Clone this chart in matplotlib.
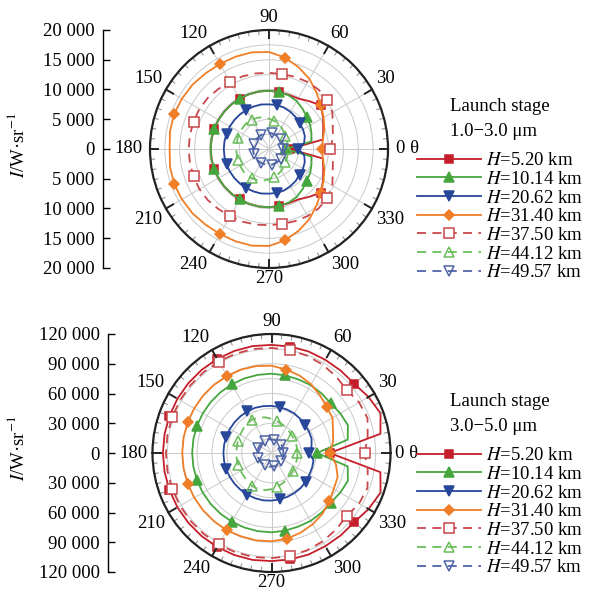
import numpy as np
import matplotlib
matplotlib.use('Agg')
import matplotlib.pyplot as plt

plt.rcParams['font.family'] = ['Liberation Serif', 'DejaVu Serif']
plt.rcParams['mathtext.fontset'] = 'stix'

# ---------------- data (angle in degrees, intensity in W/sr) ----------------
angles_deg = list(range(0, 360, 10))

heights = ['5.20', '10.14', '20.62', '31.40', '37.50', '44.12', '49.57']

# Launch stage, 1.0-3.0 um
top_h520 = [3500, 9200, 9700, 10500, 11400, 10500, 9800, 9700, 9700, 9800,
            9800, 9800, 9800, 9800, 9800, 9800, 9800, 9800, 9800,
            9800, 9800, 9800, 9800, 9800, 9800, 9800, 9800, 9800,
            9700, 9700, 9800, 10500, 11400, 10500, 9700, 9200]
top_h1014 = [2700, 7200, 7600, 8000, 8300, 8800, 9300, 9600, 9700, 9800,
             9800, 9800, 9800, 9800, 9800, 9800, 9800, 9800, 9800,
             9800, 9800, 9800, 9800, 9800, 9800, 9800, 9800, 9800,
             9700, 9600, 9300, 8800, 8300, 8000, 7600, 7200]
top_h2062 = [4900, 6000, 6400, 6600, 6700, 7000, 7200, 7400, 7500, 7500,
             7600, 7600, 7600, 7600, 7600, 7600, 7600, 7600, 7600,
             7600, 7600, 7600, 7600, 7600, 7600, 7600, 7600, 7500,
             7500, 7400, 7200, 7000, 6700, 6600, 6400, 6000]
top_h3140 = [8900, 9200, 9900, 10600, 11400, 12400, 13600, 14600, 15600, 16300,
             16500, 16500, 16500, 16600, 16800, 16900, 17000, 16900, 16700,
             16900, 17000, 16900, 16800, 16600, 16500, 16500, 16500, 16300,
             15600, 14600, 13600, 12400, 11400, 10600, 9900, 9200]
top_h3750 = [10300, 10900, 11400, 12300, 12800, 13000, 13000, 12900, 12800, 12800,
             12900, 13000, 13000, 13200, 13400, 13500, 13500, 13500, 13500,
             13500, 13500, 13500, 13400, 13200, 13000, 13000, 12900, 12800,
             12800, 12900, 13000, 13000, 12800, 12300, 11400, 10900]
top_h4412 = [3100, 3200, 3300, 3400, 3500, 3800, 4200, 4500, 4800, 5100,
             5400, 5600, 5700, 5800, 5700, 5600, 5600, 5500, 5500,
             5500, 5600, 5600, 5700, 5800, 5700, 5600, 5400, 5100,
             4800, 4500, 4200, 3800, 3500, 3400, 3300, 3200]
top_h4957 = [2300, 2400, 2500, 2500, 2600, 2600, 2600, 2600, 2700, 2700,
             2700, 2700, 2700, 2700, 2700, 2700, 2700, 2700, 2700,
             2700, 2700, 2700, 2700, 2700, 2700, 2700, 2700, 2700,
             2700, 2600, 2600, 2600, 2600, 2500, 2500, 2400]

# Launch stage, 3.0-5.0 um
bot_h520 = [58700, 111500, 117000, 113000, 108800, 108500, 108500, 109000, 109000, 109000,
            109500, 109500, 109500, 109500, 109500, 109500, 109500, 109500, 109500,
            109500, 109500, 109500, 109500, 109500, 109500, 109500, 109500, 109000,
            109000, 109000, 108500, 108500, 108800, 113000, 117000, 111500]
bot_h1014 = [46000, 78000, 82000, 80000, 78000, 78500, 79000, 79000, 79500, 80000,
             80000, 80000, 80000, 80000, 80000, 80000, 80000, 80000, 80000,
             80000, 80000, 80000, 80000, 80000, 80000, 80000, 80000, 80000,
             79500, 79000, 79000, 78500, 78000, 80000, 82000, 78000]
bot_h2062 = [38000, 41000, 43000, 43500, 44000, 45000, 46000, 46500, 47000, 47500,
             48000, 48500, 48500, 48500, 48500, 48500, 48500, 48500, 48500,
             48500, 48500, 48500, 48500, 48500, 48500, 48500, 48500, 48000,
             47500, 47000, 46500, 46000, 45000, 44000, 43500, 43000]
bot_h3140 = [59000, 63000, 66000, 71000, 72500, 76000, 80000, 83000, 85500, 88000,
             89000, 89500, 89500, 90000, 90000, 90000, 90000, 90000, 90000,
             90000, 90000, 90000, 90000, 90000, 90000, 89500, 89500, 89000,
             88000, 85500, 83000, 80000, 76000, 72500, 71000, 66000]
bot_h3750 = [94000, 98500, 103000, 102000, 99000, 101000, 103000, 104500, 105500, 106000,
             106500, 106500, 106500, 106500, 106500, 106500, 106500, 106500, 106500,
             106500, 106500, 106500, 106500, 106500, 106500, 106500, 106500, 106000,
             105500, 104500, 103000, 101000, 99000, 102000, 103000, 98500]
bot_h4412 = [26000, 26000, 26500, 26500, 27000, 28000, 29500, 31000, 32500, 34500,
             36500, 38000, 39000, 38500, 37500, 36500, 36000, 35500, 35500,
             35500, 35500, 36000, 36500, 37500, 38500, 39000, 38000, 36500,
             34500, 32500, 31000, 29500, 28000, 27000, 26500, 26500]
bot_h4957 = [12000, 12000, 12500, 12500, 13000, 13000, 13000, 13500, 13500, 13500,
             14000, 14000, 14000, 14000, 14000, 14000, 14000, 14000, 14000,
             14000, 14000, 14000, 14000, 14000, 14000, 14000, 14000, 13500,
             13500, 13500, 13000, 13000, 13000, 12500, 12500, 12000]

top_series = [top_h520, top_h1014, top_h2062, top_h3140, top_h3750, top_h4412, top_h4957]
bot_series = [bot_h520, bot_h1014, bot_h2062, bot_h3140, bot_h3750, bot_h4412, bot_h4957]

# ---------------- styles ----------------
styles = [
    dict(color='#C41E2A', ls='-', marker='s', mfc='#C41E2A', ms=6),
    dict(color='#45A63E', ls='-', marker='^', mfc='#45A63E', ms=6.5),
    dict(color='#27479B', ls='-', marker='v', mfc='#27479B', ms=6.5),
    dict(color='#F07E26', ls='-', marker='D', mfc='#F07E26', ms=5.5),
    dict(color='#C9474B', ls=(0, (5, 3.5)), marker='s', mfc='white', ms=6.5),
    dict(color='#6BBD5C', ls=(0, (5, 3.5)), marker='^', mfc='none', ms=7.5),
    dict(color='#4F64A6', ls=(0, (5, 3.5)), marker='v', mfc='none', ms=7.5),
]

FS = 13.5
W, H = 598, 590
fig = plt.figure(figsize=(W / 100, H / 100), dpi=100)


def frac_rect(x0, y0, x1, y1):
    return [x0 / W, 1 - y1 / H, (x1 - x0) / W, (y1 - y0) / H]


def fmt(v):
    return f"{abs(int(round(v))):,}".replace(',', ' ')


def panel(polar_px, axis_x, rmax, rstep, ystep, series, title, leg_xy, pad0, pad180):
    ax = fig.add_axes(frac_rect(*polar_px), projection='polar')
    ax.set_theta_zero_location('E')
    ax.set_ylim(0, rmax)
    ax.set_rgrids(np.arange(rstep, rmax, rstep), labels=[])
    ax.set_thetagrids(np.arange(0, 360, 30), labels=[])
    ax.grid(True, color='#c9c9c9', lw=0.7)
    ax.spines['polar'].set_linewidth(1.6)
    ax.spines['polar'].set_color('#222222')
    ax.tick_params(axis='both', length=0)

    th = np.deg2rad(np.array(angles_deg + [angles_deg[0]]))
    handles = []
    for vals, st, hh in zip(series, styles, heights):
        r = np.array(vals + [vals[0]])
        ln, = ax.plot(th, r, color=st['color'], ls=st['ls'], lw=1.3,
                      marker=st['marker'], ms=st['ms'], mfc=st['mfc'],
                      mec=st['color'], mew=1.1,
                      markevery=list(range(0, len(angles_deg), 4)),
                      label=f"$H$={hh} km", clip_on=False)
        handles.append(ln)

    # outer ring ticks
    for d in range(0, 360, 5):
        t = np.deg2rad(d)
        if d % 30 == 0:
            ax.plot([t, t], [rmax, rmax * 0.93], color='#222222', lw=1.4, clip_on=False)
        else:
            ax.plot([t, t], [rmax, rmax * 0.965], color='#888888', lw=0.7, clip_on=False)

    # angular labels
    for d in range(0, 360, 30):
        t = np.deg2rad(d)
        c, s = np.cos(t), np.sin(t)
        ha = 'left' if c > 0.1 else ('right' if c < -0.1 else 'center')
        va = 'bottom' if s > 0.1 else ('top' if s < -0.1 else 'center')
        rr = rmax * 1.035
        txt = str(d)
        if d == 0:
            txt = '0 θ'
            rr = rmax * pad0
        if d == 180:
            rr = rmax * pad180
        if d == 270:
            rr = rmax * 1.02
        ax.text(t, rr, txt, ha=ha, va=va, fontsize=FS, clip_on=False)

    # vertical intensity scale
    y0, y1 = polar_px[1], polar_px[3]
    axl = fig.add_axes(frac_rect(axis_x, y0, axis_x + 40, y1))
    axl.set_ylim(-rmax, rmax)
    ticks = np.arange(-rmax, rmax + 1, ystep)
    axl.set_yticks(ticks)
    axl.set_yticklabels([fmt(v) for v in ticks], fontsize=FS)
    axl.tick_params(axis='y', direction='in', length=5, width=1.0, pad=6)
    axl.set_xticks([])
    for sp in ['top', 'right', 'bottom']:
        axl.spines[sp].set_visible(False)
    axl.spines['left'].set_linewidth(1.0)
    axl.patch.set_visible(False)

    leg = fig.legend(handles=handles, loc='upper left',
                     bbox_to_anchor=(leg_xy[0] / W, 1 - leg_xy[1] / H),
                     frameon=False, fontsize=FS, title=title, title_fontsize=FS,
                     handlelength=3.4, handletextpad=0.3, labelspacing=0.08,
                     borderpad=0, borderaxespad=0)
    leg.get_title().set_linespacing(1.65)
    leg._legend_box.sep = 8.5
    return ax


panel((150, 30, 388, 268), 103, 20000, 2500, 5000, top_series,
      'Launch stage\n1.0−3.0 μm', (417, 98), 1.07, 1.06)
panel((152, 334, 391, 572), 108, 120000, 15000, 30000, bot_series,
      'Launch stage\n3.0−5.0 μm', (417, 393), 1.04, 1.045)

fig.text(17 / W, 1 - 145 / H, '$I$/W·sr$^{-1}$', rotation=90, ha='center', va='center', fontsize=FS)
fig.text(17 / W, 1 - 448 / H, '$I$/W·sr$^{-1}$', rotation=90, ha='center', va='center', fontsize=FS)

fig.savefig('out.png', dpi=100)
